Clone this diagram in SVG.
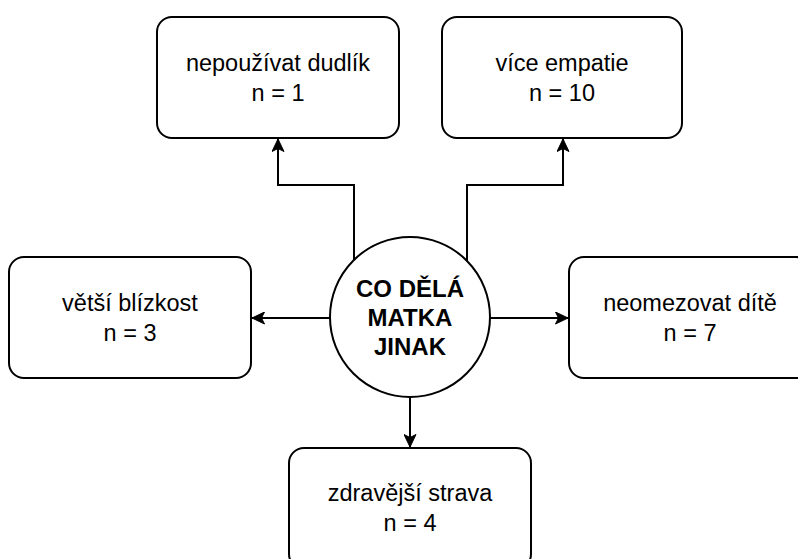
<svg xmlns="http://www.w3.org/2000/svg" width="798" height="559" viewBox="0 0 798 559">
  <defs>
    <style>
      .box { fill: #ffffff; stroke: #000000; stroke-width: 2; }
      .lbl { font-family: "Liberation Sans", Arial, sans-serif; font-size: 23.5px; fill: #000000; text-anchor: middle; }
      .bold { font-weight: bold; font-size: 24px; }
      .conn { fill: none; stroke: #000000; stroke-width: 2; }
    </style>
    <marker id="arrow" markerUnits="userSpaceOnUse" markerWidth="15" markerHeight="13" refX="13" refY="6.5" orient="auto" viewBox="0 0 15 13">
      <path d="M0.5,0.5 L13,6.5 L0.5,12.5 L3.5,6.5 Z" fill="#000000" stroke="#000000" stroke-width="1"/>
    </marker>
  </defs>
  <rect width="798" height="559" fill="#ffffff"/>

  <g id="connectors">
    <path class="conn" d="M354,260 V185 H278 V139" marker-end="url(#arrow)"/>
    <path class="conn" d="M467,261 V185 H563 V139" marker-end="url(#arrow)"/>
    <path class="conn" d="M330,318 H252" marker-end="url(#arrow)"/>
    <path class="conn" d="M490,318 H568" marker-end="url(#arrow)"/>
    <path class="conn" d="M410,397 V447" marker-end="url(#arrow)"/>
  </g>

  <g id="node-dudlik">
    <rect class="box" x="157" y="17" width="242" height="121" rx="15" ry="15"/>
    <text class="lbl" x="278" y="71">nepoužívat dudlík</text>
    <text class="lbl" x="278" y="101">n = 1</text>
  </g>

  <g id="node-empatie">
    <rect class="box" x="442" y="17" width="240" height="121" rx="15" ry="15"/>
    <text class="lbl" x="562" y="71">více empatie</text>
    <text class="lbl" x="562" y="101">n = 10</text>
  </g>

  <g id="node-blizkost">
    <rect class="box" x="9" y="257" width="242" height="121" rx="15" ry="15"/>
    <text class="lbl" x="130" y="311">větší blízkost</text>
    <text class="lbl" x="130" y="341">n = 3</text>
  </g>

  <g id="node-neomezovat">
    <rect class="box" x="569" y="257" width="242" height="121" rx="15" ry="15"/>
    <text class="lbl" x="690" y="311">neomezovat dítě</text>
    <text class="lbl" x="690" y="341">n = 7</text>
  </g>

  <g id="node-strava">
    <rect class="box" x="289" y="448" width="242" height="121" rx="15" ry="15"/>
    <text class="lbl" x="410" y="501">zdravější strava</text>
    <text class="lbl" x="410" y="531">n = 4</text>
  </g>

  <g id="node-center">
    <circle class="box" cx="410" cy="317" r="80"/>
    <text class="lbl bold" x="410" y="297">CO DĚLÁ</text>
    <text class="lbl bold" x="410" y="326">MATKA</text>
    <text class="lbl bold" x="410" y="355">JINAK</text>
  </g>
</svg>
